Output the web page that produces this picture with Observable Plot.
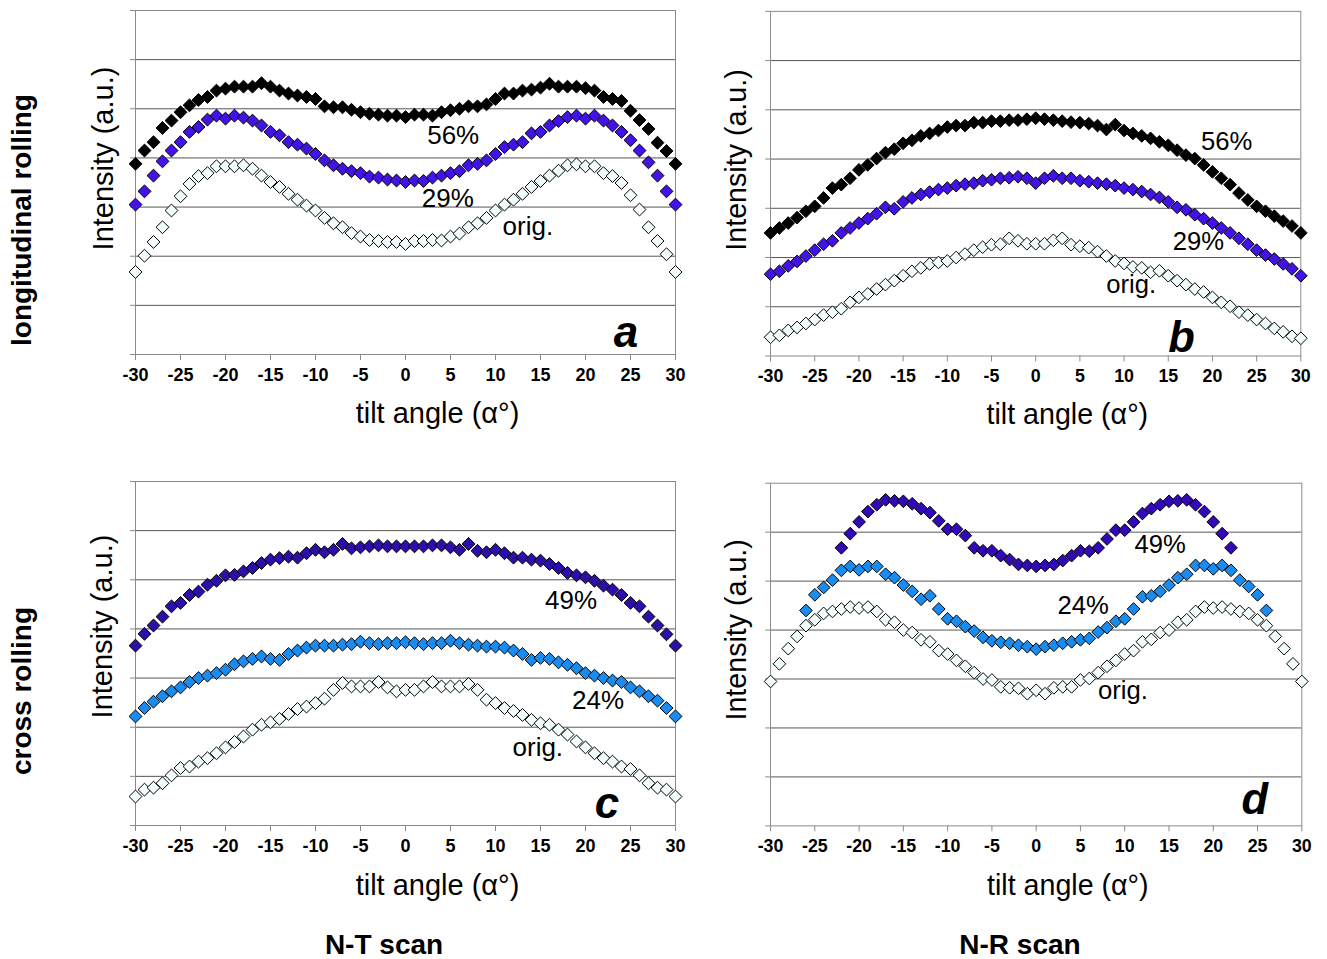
<!DOCTYPE html>
<html><head><meta charset="utf-8">
<script src="https://cdn.jsdelivr.net/npm/d3@7"></script>
<script src="https://cdn.jsdelivr.net/npm/@observablehq/plot@0.6"></script>
<style>
body{margin:0;background:#fff;width:1327px;height:959px;position:relative;overflow:hidden;font-family:"Liberation Sans",Arial,sans-serif;}
.panel{position:absolute;}
.lbl{position:absolute;font-weight:bold;font-size:28px;white-space:nowrap;color:#000;transform:translate(-50%,-50%);}
.rot{transform:translate(-50%,-50%) rotate(-90deg);}
</style></head><body>
<div id="pa" class="panel" style="left:60px;top:0px;"></div>
<div id="pb" class="panel" style="left:695px;top:0px;"></div>
<div id="pc" class="panel" style="left:60px;top:460px;"></div>
<div id="pd" class="panel" style="left:695px;top:460px;"></div>
<div class="lbl rot" style="left:22px;top:220px;">longitudinal rolling</div>
<div class="lbl rot" style="left:22px;top:691px;">cross rolling</div>
<div class="lbl" style="left:384px;top:945px;">N-T scan</div>
<div class="lbl" style="left:1020px;top:945px;">N-R scan</div>
<script>
// tilt angles (degrees)
const angles = [-30,-29,-28,-27,-26,-25,-24,-23,-22,-21,-20,-19,-18,-17,-16,-15,-14,-13,-12,-11,-10,-9,-8,-7,-6,-5,-4,-3,-2,-1,0,1,2,3,4,5,6,7,8,9,10,11,12,13,14,15,16,17,18,19,20,21,22,23,24,25,26,27,28,29,30];
const xTicks = [-30,-25,-20,-15,-10,-5,0,5,10,15,20,25,30];
const gridLevels = [0,1,2,3,4,5,6,7];

// Panel a: longitudinal rolling, N-T scan
const a56 = [3.88,4.15,4.32,4.61,4.76,4.93,5.07,5.18,5.24,5.37,5.41,5.45,5.45,5.45,5.52,5.45,5.37,5.31,5.27,5.24,5.20,5.05,5.03,5.03,4.98,4.93,4.90,4.88,4.86,4.86,
  4.83,
  4.88,4.88,4.86,4.93,4.97,5.00,5.05,5.05,5.09,5.20,5.31,5.31,5.37,5.39,5.43,5.51,5.45,5.45,5.45,5.42,5.37,5.24,5.20,5.16,4.96,4.77,4.59,4.31,4.14,3.88];
const a29 = [3.05,3.32,3.64,3.93,4.15,4.32,4.53,4.63,4.78,4.86,4.80,4.86,4.82,4.76,4.66,4.53,4.46,4.32,4.27,4.19,4.08,3.95,3.85,3.78,3.73,3.69,3.62,3.60,3.56,3.54,
  3.51,
  3.54,3.53,3.60,3.64,3.69,3.73,3.85,3.88,3.95,4.08,4.22,4.27,4.32,4.50,4.53,4.66,4.75,4.83,4.86,4.80,4.86,4.76,4.66,4.53,4.36,4.15,3.91,3.64,3.32,3.05];
const aOrig = [1.68,2.01,2.29,2.59,2.93,3.22,3.47,3.63,3.69,3.83,3.83,3.83,3.85,3.78,3.64,3.51,3.41,3.27,3.15,3.03,2.93,2.78,2.67,2.59,2.47,2.40,2.33,2.31,2.29,2.29,
  2.25,
  2.31,2.31,2.33,2.32,2.40,2.46,2.59,2.67,2.78,2.93,3.05,3.15,3.27,3.41,3.53,3.64,3.74,3.85,3.87,3.83,3.83,3.69,3.63,3.49,3.24,2.95,2.59,2.31,2.04,1.68];

// Panel b: longitudinal rolling, N-R scan
const b56 = [2.50,2.60,2.70,2.81,2.94,3.04,3.21,3.41,3.48,3.61,3.78,3.88,4.01,4.13,4.20,4.32,4.38,4.47,4.52,4.58,4.65,4.68,4.68,4.74,4.74,4.77,4.77,4.79,4.79,4.81,
  4.83,
  4.81,4.79,4.77,4.75,4.74,4.72,4.68,4.60,4.70,4.58,4.52,4.47,4.42,4.35,4.28,4.18,4.08,4.01,3.88,3.74,3.61,3.48,3.31,3.17,3.04,2.94,2.84,2.74,2.64,2.50];
const b29 = [1.66,1.72,1.83,1.92,2.03,2.15,2.27,2.34,2.50,2.60,2.70,2.79,2.89,3.02,2.99,3.13,3.21,3.28,3.33,3.38,3.41,3.46,3.49,3.51,3.56,3.58,3.61,3.62,3.64,3.61,
  3.51,
  3.61,3.66,3.61,3.61,3.56,3.54,3.51,3.49,3.46,3.41,3.38,3.34,3.28,3.22,3.13,3.02,2.97,2.87,2.79,2.70,2.60,2.50,2.39,2.27,2.15,2.05,1.97,1.87,1.77,1.63];
const bOrig = [0.38,0.42,0.52,0.58,0.66,0.74,0.83,0.89,0.96,1.09,1.19,1.26,1.36,1.45,1.53,1.63,1.72,1.79,1.87,1.90,1.93,2.00,2.07,2.15,2.21,2.26,2.27,2.39,2.34,2.28,
  2.28,
  2.28,2.35,2.39,2.26,2.23,2.20,2.12,2.03,1.93,1.88,1.81,1.79,1.70,1.73,1.63,1.53,1.45,1.36,1.30,1.19,1.09,1.01,0.89,0.83,0.74,0.66,0.56,0.49,0.40,0.36];

// Panel c: cross rolling, N-T scan
const c49 = [3.66,3.90,4.07,4.25,4.46,4.53,4.69,4.76,4.90,4.98,5.09,5.10,5.17,5.24,5.34,5.41,5.44,5.47,5.45,5.54,5.61,5.56,5.61,5.73,5.64,5.66,5.68,5.70,5.68,5.68,
  5.68,
  5.68,5.68,5.70,5.70,5.66,5.61,5.73,5.59,5.56,5.61,5.54,5.45,5.45,5.41,5.39,5.32,5.24,5.14,5.09,5.05,4.98,4.88,4.80,4.69,4.53,4.46,4.25,4.07,3.89,3.66];
const c24 = [2.22,2.39,2.52,2.63,2.73,2.81,2.92,3.00,3.05,3.10,3.17,3.28,3.34,3.39,3.44,3.39,3.37,3.49,3.56,3.62,3.66,3.66,3.66,3.68,3.69,3.74,3.71,3.69,3.71,3.71,
  3.73,
  3.71,3.69,3.71,3.71,3.76,3.71,3.68,3.66,3.64,3.64,3.62,3.56,3.49,3.37,3.41,3.39,3.32,3.27,3.20,3.10,3.05,3.00,2.95,2.92,2.81,2.73,2.63,2.54,2.39,2.22];
const cOrig = [0.59,0.73,0.77,0.86,1.02,1.17,1.20,1.30,1.37,1.47,1.59,1.70,1.81,1.95,2.05,2.10,2.17,2.27,2.37,2.42,2.49,2.58,2.76,2.90,2.83,2.83,2.83,2.92,2.81,2.73,
  2.76,
  2.76,2.83,2.92,2.83,2.83,2.83,2.88,2.76,2.56,2.49,2.39,2.33,2.25,2.15,2.08,2.05,1.95,1.85,1.71,1.59,1.47,1.37,1.30,1.20,1.15,1.02,0.86,0.77,0.73,0.59];

// Panel d: cross rolling, N-R scan (null = not measured)
const d49 = [null,null,null,null,null,null,null,null,
  5.68,5.97,6.21,6.42,6.56,6.66,6.64,6.63,6.58,6.48,6.40,6.23,6.06,6.06,5.93,5.68,5.62,5.62,5.52,5.44,5.34,5.32,
  5.30,
  5.32,5.34,5.42,5.52,5.62,5.61,5.68,5.86,6.04,6.04,6.21,6.38,6.48,6.56,6.63,6.64,6.66,6.56,6.42,6.21,5.97,5.68,
  null,null,null,null,null,null,null,null];
const d24 = [null,null,null,null,
  4.40,4.72,4.87,5.02,5.22,5.30,5.23,5.30,5.30,5.14,5.07,4.92,4.79,4.63,4.70,4.43,4.23,4.18,4.07,3.98,3.85,3.78,3.75,3.73,3.69,3.66,
  3.61,
  3.66,3.69,3.73,3.76,3.80,3.83,3.96,4.05,4.18,4.23,4.43,4.68,4.70,4.79,4.92,5.07,5.14,5.32,5.32,5.25,5.32,5.22,5.02,4.89,4.72,4.40,
  null,null,null,null];
const dOrig = [2.95,3.31,3.62,3.87,4.09,4.21,4.34,4.38,4.43,4.47,4.45,4.47,4.38,4.21,4.16,4.00,3.95,3.80,3.76,3.58,3.51,3.38,3.26,3.13,3.00,2.98,2.84,2.82,2.81,2.70,
  2.77,
  2.70,2.82,2.84,2.84,2.98,3.01,3.13,3.26,3.38,3.51,3.58,3.76,3.81,3.95,4.00,4.16,4.21,4.38,4.47,4.45,4.47,4.43,4.38,4.34,4.21,4.09,3.87,3.62,3.31,2.95];

// series labels: [text, x (deg), y (a.u.)]
const labelsA = [["56%",5.3,4.46],["29%",4.7,3.18],["orig.",13.6,2.6]];
const labelsB = [["56%",21.6,4.35],["29%",18.4,2.31],["orig.",10.8,1.44]];
const labelsC = [["49%",18.4,4.58],["24%",21.4,2.54],["orig.",14.7,1.59]];
const labelsD = [["49%",14.0,5.75],["24%",5.3,4.5],["orig.",9.8,2.76]];
const letters = {a:["a",24.5,0.44], b:["b",16.5,0.36], c:["c",22.4,0.44], d:["d",24.7,0.52]};

const colBlack = "#000000", colViolet = "#4212e6", colIndigo = "#2e0ea8", colIndigoD = "#3208b8", colSky = "#1a8cf0", colOpen = "#f2fcfc";

function rows(vals){ return angles.map((x,i)=>({x, y: vals[i]})).filter(d=>d.y!=null); }

function panel(el, cfg){
  const series = cfg.series;
  const marks = [
    Plot.gridY(gridLevels.slice(1,7), {stroke:"#555", strokeOpacity:1, strokeWidth:1}),
    Plot.frame({stroke:"#8a8a8a"}),
    Plot.axisY(gridLevels, {tickSize:5, stroke:"#8a8a8a", fill:"none", label:null}),
    Plot.axisX(xTicks, {tickSize:6, tickPadding:8, stroke:"#8a8a8a", fill:"#000", fontSize:18, fontWeight:"bold", label:null, tickFormat:d=>String(d)}),
  ];
  for (const s of series) {
    marks.push(Plot.dot(rows(s.v), {x:"x", y:"y", symbol:"diamond2", r:5.8, fill:s.fill, stroke:s.stroke, strokeWidth:1}));
  }
  marks.push(Plot.text(cfg.labels, {x:d=>d[1], y:d=>d[2], text:d=>d[0], fontSize:26, fontWeight:"normal", fill:"#000"}));
  marks.push(Plot.text([cfg.letter], {x:d=>d[1], y:d=>d[2], text:d=>d[0], fontSize:44, fontWeight:"bold", fontStyle:"italic", fill:"#000"}));
  marks.push(Plot.text(["tilt angle (α°)"], {frameAnchor:"bottom", dx:32, dy:cfg.xdy, fontSize:29, fontWeight:"normal", fill:"#000", lineAnchor:"middle", textAnchor:"middle"}));
  marks.push(Plot.text(["Intensity (a.u.)"], {frameAnchor:"left", dx:cfg.ydx, dy:cfg.ydy, rotate:-90, fontSize:29, fontWeight:"normal", fill:"#000", lineAnchor:"middle", textAnchor:"middle"}));
  const p = Plot.plot({
    width: cfg.w, height: cfg.h,
    marginLeft: cfg.ml, marginRight: cfg.mr, marginTop: cfg.mt, marginBottom: cfg.mb,
    x: {domain:[-30,30]}, y: {domain:[0,7]},
    style: {fontFamily:'"Liberation Sans", Arial, sans-serif', fontSize:"18px", fontWeight:"bold", background:"transparent", overflow:"visible"},
    marks
  });
  document.getElementById(el).appendChild(p);
}

panel("pa", {w:640, h:440, ml:75, mr:25, mt:10, mb:86, xdy:59, ydx:-32, ydy:-24,
  series:[{v:aOrig, fill:colOpen, stroke:"#000"},{v:a29, fill:colViolet, stroke:"#000"},{v:a56, fill:colBlack, stroke:"#000"}],
  labels:labelsA, letter:letters.a});
panel("pb", {w:640, h:445, ml:76, mr:27, mt:11, mb:85, xdy:60, ydx:-34, ydy:-24,
  series:[{v:bOrig, fill:colOpen, stroke:"#000"},{v:b29, fill:colViolet, stroke:"#000"},{v:b56, fill:colBlack, stroke:"#000"}],
  labels:labelsB, letter:letters.b});
panel("pc", {w:640, h:440, ml:75, mr:25, mt:21, mb:75, xdy:60, ydx:-33, ydy:-27,
  series:[{v:cOrig, fill:colOpen, stroke:"#000"},{v:c24, fill:colSky, stroke:"#000"},{v:c49, fill:colIndigo, stroke:"#000"}],
  labels:labelsC, letter:letters.c});
panel("pd", {w:640, h:440, ml:76, mr:26, mt:23, mb:70, xdy:61, ydx:-34, ydy:-25,
  series:[{v:dOrig, fill:colOpen, stroke:"#000"},{v:d24, fill:colSky, stroke:"#000"},{v:d49, fill:colIndigoD, stroke:"#000"}],
  labels:labelsD, letter:letters.d});
</script>
</body></html>
